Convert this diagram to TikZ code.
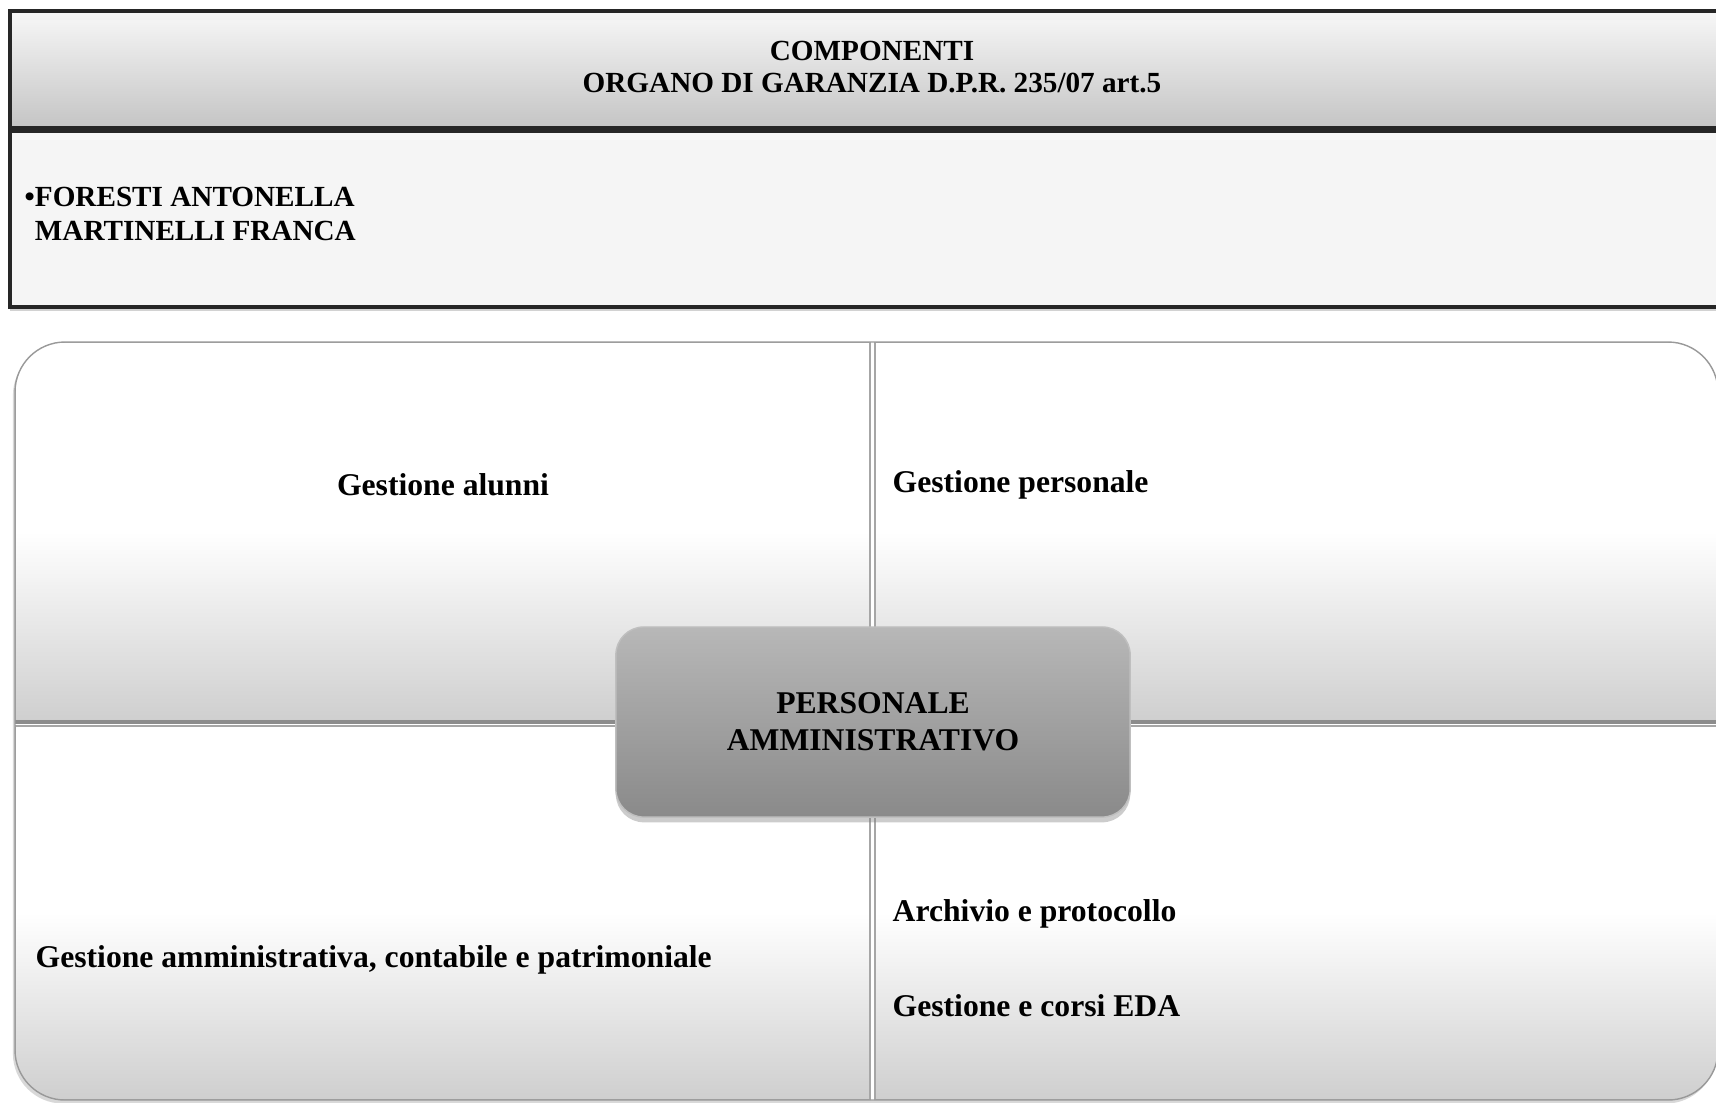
\documentclass[tikz,border=0pt]{standalone}
\usepackage{fontspec}
\setmainfont{Liberation Serif}
\usetikzlibrary{shadows}
\tikzset{
  bar/.style={draw=black!85, line width=0.9pt,
    drop shadow={shadow xshift=0pt, shadow yshift=-1.2pt, opacity=0.35}},
  quad/.style={draw=black!35, line width=0.4pt,
    top color=white, bottom color=black!19, middle color=white},
  lbl/.style={inner sep=0pt, font=\bfseries\fontsize{9}{10.5}\selectfont},
}
\begin{document}
\begin{tikzpicture}[x=0.01cm, y=-0.01cm]
\useasboundingbox (0,0) rectangle (1716,1102);
\fill[white] (0,0) rectangle (1716,1102);

\shade[bar, top color=black!3, bottom color=black!23] (10,11) rectangle (1740,128);
\fill[bar, fill=black!4] (10,131) rectangle (1740,307);

\node[lbl, font=\bfseries\fontsize{8.3}{9.2}\selectfont, align=center] (head) at (872,67)
  {COMPONENTI\\ORGANO DI GARANZIA D.P.R. 235/07 art.5};
\node[lbl, font=\bfseries\fontsize{8.3}{9.7}\selectfont, align=left, anchor=west] (names) at (24,214)
  {•FORESTI ANTONELLA\\\phantom{•}MARTINELLI FRANCA};

\fill[white, rounded corners=0.5cm, drop shadow={shadow xshift=-0.6pt, shadow yshift=-1pt, opacity=0.3}]
  (15,342) rectangle (1718,1100);
\begin{scope}
\clip[rounded corners=0.5cm] (15,342) rectangle (1718,1100);
\shade[quad] (15,342) rectangle (870,722);
\shade[quad] (875,342) rectangle (1718,722);
\shade[quad] (15,726) rectangle (870,1100);
\shade[quad] (875,726) rectangle (1718,1100);
\draw[black!45, line width=1pt] (15,722) -- (1718,722);
\end{scope}
\draw[black!40, rounded corners=0.5cm] (15,342) rectangle (1718,1100);

\node[lbl] (alunni) at (443,485) {Gestione alunni};
\node[lbl, anchor=west] (personale) at (892,485) {Gestione personale};
\node[lbl, anchor=west] (amm) at (35,960) {Gestione amministrativa, contabile e patrimoniale};
\node[lbl, anchor=west] (archivio) at (892,914) {Archivio e protocollo};
\node[lbl, anchor=west] (eda) at (892,1006) {Gestione e corsi EDA};

\node[lbl, align=center, draw=black!25, rounded corners=0.28cm,
  top color=black!28, bottom color=black!46,
  minimum width=5.14cm, minimum height=1.9cm,
  drop shadow={shadow xshift=0pt, shadow yshift=-1.5pt, opacity=0.4}] (pers) at (873,722)
  {PERSONALE\\AMMINISTRATIVO};
\end{tikzpicture}
\end{document}
